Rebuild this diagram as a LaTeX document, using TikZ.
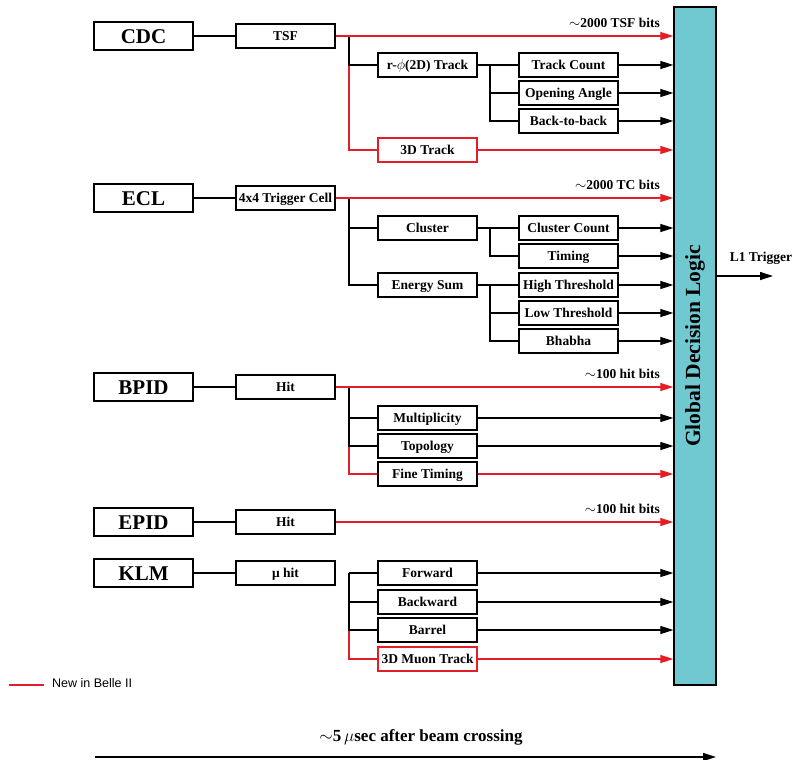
\documentclass[tikz,border=0pt]{standalone}
\usepackage{fontspec}
\setmainfont{Liberation Serif}
\newfontfamily\legendfont{Liberation Sans}
\usetikzlibrary{arrows.meta}
\definecolor{newred}{RGB}{228,30,38}
\definecolor{gdlteal}{RGB}{112,200,208}
\tikzset{
  det/.style={draw, line width=1.3pt, minimum width=99pt, minimum height=28pt, inner sep=0pt, text height=15pt, text depth=0pt, font=\fontsize{21}{24}\selectfont\bfseries},
  blk/.style={draw, line width=1.1pt, minimum width=99pt, minimum height=24pt, inner sep=0pt, text height=10.5pt, text depth=1.5pt, font=\fontsize{13.5}{15}\selectfont\bfseries},
  newblk/.style={blk, draw=newred},
  tie/.style={line width=1.1pt},
  newtie/.style={tie, draw=newred},
  feed/.style={tie, -{Triangle[length=13pt,width=8pt]}},
  newfeed/.style={feed, draw=newred, fill=newred},
  bits/.style={font=\fontsize{13.5}{15}\selectfont\bfseries, anchor=south east, inner sep=0pt},
}
\begin{document}
\begin{tikzpicture}[x=1pt,y=-1pt]
\useasboundingbox (0,0) rectangle (795,760);

% global decision logic
\node[draw, fill=gdlteal, line width=1.3pt, minimum width=42pt, minimum height=678pt, inner sep=0pt] (gdl) at (695,346) {};
\node[rotate=90, font=\fontsize{21.5}{24}\selectfont\bfseries] (gdltxt) at (gdl.center) {Global Decision Logic};

% detectors
\node[det] (cdc) at (143.5,36) {CDC};
\node[det] (ecl) at (143.5,198) {ECL};
\node[det] (bpid) at (143.5,387) {BPID};
\node[det] (epid) at (143.5,522) {EPID};
\node[det] (klm) at (143.5,573) {KLM};

% first stage
\node[blk] (tsf) at (285.5,36) {TSF};
\node[blk] (tcell) at (285.5,198) {4x4 Trigger Cell};
\node[blk] (bhit) at (285.5,387) {Hit};
\node[blk] (ehit) at (285.5,522) {Hit};
\node[blk] (muhit) at (285.5,573) {μ hit};

% second stage
\node[blk] (rphi) at (427.5,65) {r-$\phi$(2D) Track};
\node[newblk] (trk3d) at (427.5,150) {3D Track};
\node[blk] (clus) at (427.5,228) {Cluster};
\node[blk] (esum) at (427.5,285) {Energy Sum};
\node[blk] (mult) at (427.5,418) {Multiplicity};
\node[blk] (topo) at (427.5,446) {Topology};
\node[blk] (ftime) at (427.5,474) {Fine Timing};
\node[blk] (fwd) at (427.5,573) {Forward};
\node[blk] (bwd) at (427.5,602) {Backward};
\node[blk] (barrel) at (427.5,630) {Barrel};
\node[newblk] (muon3d) at (427.5,659) {3D Muon Track};

% third stage
\node[blk] (tcount) at (568.5,65) {Track Count};
\node[blk] (oangle) at (568.5,93) {Opening Angle};
\node[blk] (b2b) at (568.5,121) {Back-to-back};
\node[blk] (ccount) at (568.5,228) {Cluster Count};
\node[blk] (timing) at (568.5,256) {Timing};
\node[blk] (hthr) at (568.5,285) {High Threshold};
\node[blk] (lthr) at (568.5,313) {Low Threshold};
\node[blk] (bhabha) at (568.5,341) {Bhabha};

\foreach \a/\b in {cdc/tsf,ecl/tcell,bpid/bhit,epid/ehit,klm/muhit,rphi/tcount,clus/ccount,esum/hthr}
  \draw[tie] (\a) -- (\b);

% forks
\coordinate (cdcfork) at (349,36);
\coordinate (eclfork) at (349,198);
\coordinate (bpidfork) at (349,387);
\coordinate (klmfork) at (349,573);
\coordinate (rphifork) at (490,65);
\coordinate (clusfork) at (490,228);
\coordinate (esumfork) at (490,285);

\draw[newtie] (cdcfork) |- (trk3d);
\draw[tie] (cdcfork) |- (rphi);
\draw[tie] (eclfork) |- (clus);
\draw[tie] (eclfork) |- (esum);
\draw[newtie] (bpidfork) |- (ftime);
\draw[tie] (bpidfork) |- (mult);
\draw[tie] (bpidfork) |- (topo);
\draw[newtie] (klmfork) |- (muon3d);
\draw[tie] (klmfork) |- (bwd);
\draw[tie] (klmfork) |- (barrel);
\draw[tie] (klmfork) -- (fwd);
\draw[tie] (rphifork) |- (oangle);
\draw[tie] (rphifork) |- (b2b);
\draw[tie] (clusfork) |- (timing);
\draw[tie] (esumfork) |- (lthr);
\draw[tie] (esumfork) |- (bhabha);

% inputs to GDL
\foreach \n in {tsf,trk3d,tcell,bhit,ftime,ehit,muon3d}
  \draw[newfeed] (\n) -- (\n -| gdl.west);
\foreach \n in {tcount,oangle,b2b,ccount,timing,hthr,lthr,bhabha,mult,topo,fwd,bwd,barrel}
  \draw[feed] (\n) -- (\n -| gdl.west);

\node[bits] (tsfbits) at (660,28) {$\sim$2000 TSF bits};
\node[bits] (tcbits) at (660,190) {$\sim$2000 TC bits};
\node[bits] (bhitbits) at (660,379) {$\sim$100 hit bits};
\node[bits] (ehitbits) at (660,514) {$\sim$100 hit bits};

% output
\coordinate (l1end) at (773,276);
\draw[feed] (gdl.east |- l1end) -- (l1end);
\node[font=\fontsize{13.5}{15}\selectfont\bfseries, anchor=base] (l1txt) at (761,261) {L1 Trigger};

% legend
\coordinate (legA) at (9,685);
\coordinate (legB) at (44,685);
\draw[newtie, line width=2.2pt] (legA) -- (legB);
\node[anchor=west, inner sep=0pt, font=\legendfont\fontsize{12.5}{14}\selectfont] (legtxt) at (52,683) {New in Belle II};

% time axis
\coordinate (tstart) at (95,757);
\coordinate (tend) at (716,757);
\draw[feed, line width=1.3pt] (tstart) -- (tend);
\node[anchor=base, font=\fontsize{17}{19}\selectfont\bfseries] (ttxt) at (421,741) {$\sim$5\,$\mu$sec after beam crossing};

\end{tikzpicture}
\end{document}
